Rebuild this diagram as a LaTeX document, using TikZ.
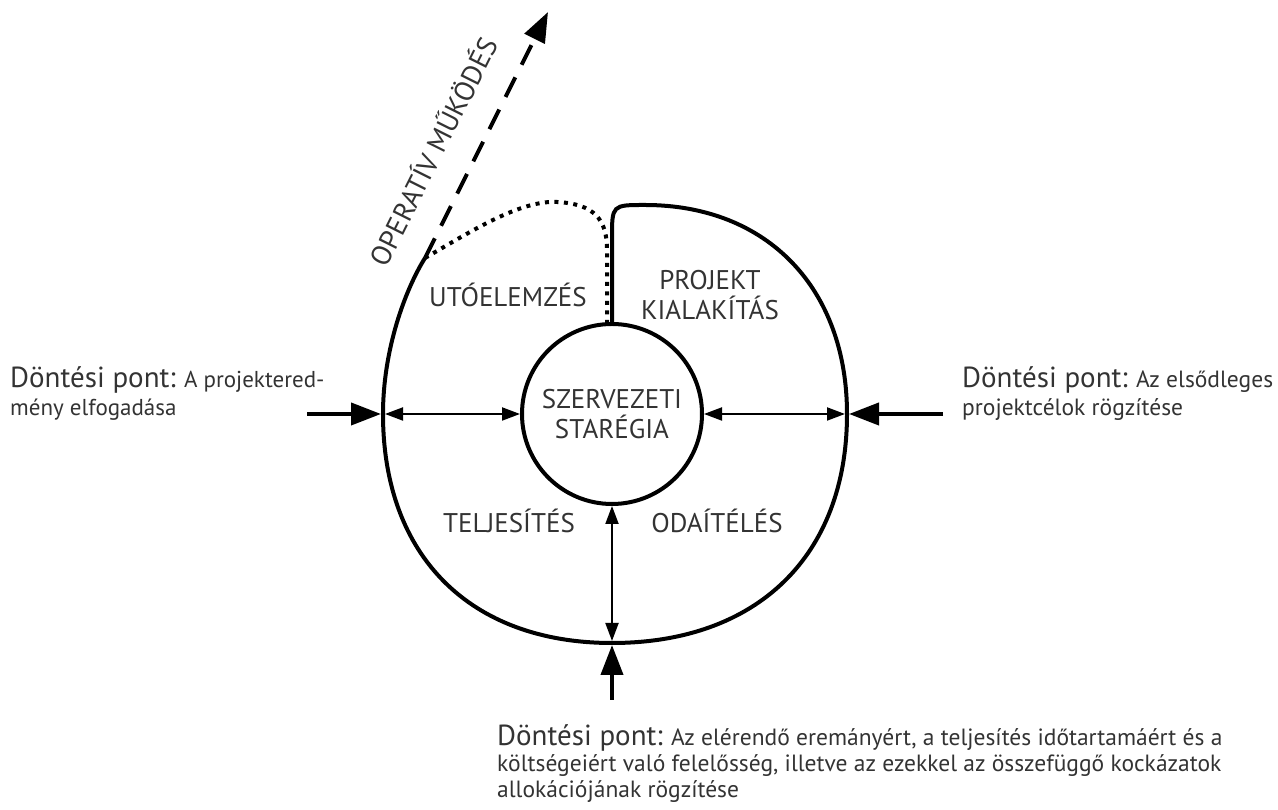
\documentclass[tikz,border=0pt]{standalone}
\usepackage{fontspec}
\setmainfont{PT Sans}
\usetikzlibrary{arrows.meta}

\newcommand{\dontes}{{\fontsize{29}{28}\selectfont Döntési pont:}}

\begin{document}
\begin{tikzpicture}[x=1pt,y=1pt,
    phase/.style={font=\fontsize{27}{30}\selectfont, text=black!80, align=center, inner sep=0pt},
    dtext/.style={font=\fontsize{23.5}{28}\selectfont, text=black!80, align=left, inner sep=0pt, anchor=north west},
    bigarrow/.style={line width=4pt, -{Triangle[length=30pt,width=22pt]}, shorten >=2pt},
    thinarrow/.style={line width=2pt, {Triangle[length=18pt,width=13pt]}-{Triangle[length=18pt,width=13pt]}, shorten <=2pt},
]
\useasboundingbox (0,0) rectangle (1278,810);

% strategy in the middle
\node[circle, draw, line width=4pt, minimum size=180pt, phase] (strat) at (612,396) {SZERVEZETI\\STARÉGIA};

\coordinate (oTL) at (425,552);
\coordinate (oL) at (383,396);
\coordinate (oB) at (612,167);
\coordinate (oR) at (847,396);
\coordinate (oT) at (645,605);
\coordinate (tip) at (548,798);

% project loop
\draw[line width=4pt, line join=round] (oTL) .. controls (405,520) and (383,460) .. (oL)
    .. controls (383,254) and (470,167) .. (oB)
    .. controls (757,167) and (847,254) .. (oR)
    .. controls (847,521) and (768,605) .. (oT)
    .. controls (612,605) .. (612,572) -- (strat.north);
\draw[line width=4pt, dash pattern=on 4pt off 5.5pt] (oTL) .. controls (470,578) and (520,610) .. (557,608)
    .. controls (595,606) and (607,590) .. (607,560) -- (607,486);
\draw[line width=4pt, dash pattern=on 22pt off 14pt, -{Triangle[length=30pt,width=22pt]}] (oTL) -- (tip)
    node[pos=0.36, sloped, above=27pt, phase, font=\fontsize{28}{30}\selectfont] (oper) {OPERATÍV MŰKÖDÉS};

% phases
\node[phase, anchor=base] (utoel) at (508,503) {UTÓELEMZÉS};
\node[phase] (projki) at (710,515) {PROJEKT\\KIALAKÍTÁS};
\node[phase, anchor=base] (telj) at (509,277) {TELJESÍTÉS};
\node[phase, anchor=base] (odait) at (717,277) {ODAÍTÉLÉS};

% decision points
\node[dtext, font=\fontsize{23}{28}\selectfont] (dleft) at (10,444) {\dontes{} A projektered-\\mény elfogadása};
\node[dtext] (dright) at (962,444) {\dontes{} Az elsődleges\\projektcélok rögzítése};
\node[dtext, font=\fontsize{23.5}{26}\selectfont] (dbottom) at (497,86) {\dontes{} Az elérendő eremányért, a teljesítés időtartamáért és a\\költségeiért való felelősség, illetve az ezekkel az összefüggő kockázatok\\allokációjának rögzítése};

\coordinate (inL) at (307,396);
\coordinate (inR) at (943,396);
\coordinate (inB) at (612,110);
\draw[bigarrow] (inL) -- (oL);
\draw[bigarrow] (inR) -- (oR);
\draw[bigarrow] (inB) -- (oB);
\draw[thinarrow] (oL) -- (strat.west);
\draw[thinarrow] (oR) -- (strat.east);
\draw[thinarrow] (oB) -- (strat.south);
\end{tikzpicture}
\end{document}
